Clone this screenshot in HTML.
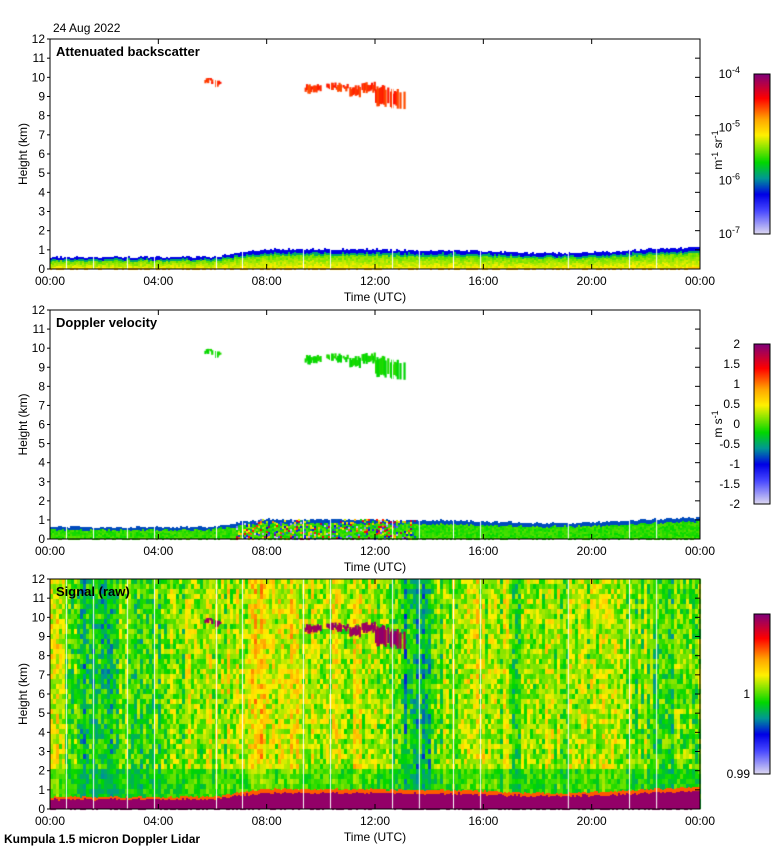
<!DOCTYPE html>
<html><head><meta charset="utf-8">
<style>
body{margin:0;background:#fff;width:780px;height:850px;overflow:hidden;font-family:"Liberation Sans",sans-serif;}
#wrap{position:relative;width:780px;height:850px;}
canvas,svg{position:absolute;left:0;top:0;}
</style></head>
<body>
<div id="wrap">
<canvas id="cv" width="780" height="850"></canvas>
<svg id="sv" width="780" height="850"></svg>
</div>
<script>
// ---- data ----
const timeTicks = ["00:00","04:00","08:00","12:00","16:00","20:00","00:00"];
const heightTicks = [0,1,2,3,4,5,6,7,8,9,10,11,12];
// boundary-layer top height (km), hourly 0..24
const blTop = [0.6,0.6,0.6,0.6,0.6,0.6,0.6,0.85,1.0,1.0,1.0,1.0,1.0,0.95,0.95,0.95,0.9,0.85,0.8,0.8,0.85,0.9,1.0,1.05,1.1];
// cloud segments: [startHour, endHour, bottomKm, topKm]
const cloudStart = [5.7,5.95,9.4,10.2,11.0,11.5,12.0,12.5];
const cloudEnd   = [5.95,6.25,10.0,11.0,11.5,12.0,12.5,13.1];
const cloudBot   = [9.6,9.4,9.1,9.2,8.9,9.1,8.4,8.3];
const cloudTop   = [10.1,9.9,9.7,9.75,9.6,9.8,9.6,9.4];
// raw signal column mean (0..1 colour scale), half-hourly 0..24
const sigMean = [0.62,0.5,0.42,0.42,0.45,0.5,0.45,0.48,0.52,0.52,0.55,0.55,0.55,0.58,0.6,0.62,0.6,0.6,0.58,0.58,0.56,0.58,0.58,0.58,0.55,0.48,0.42,0.42,0.5,0.55,0.58,0.58,0.56,0.55,0.5,0.55,0.55,0.55,0.55,0.55,0.55,0.58,0.55,0.52,0.5,0.5,0.5,0.48];
// data gaps (hours)
const gaps = [0.59,1.59,2.84,3.84,6.13,7.09,9.34,10.34,12.63,13.62,14.88,15.88,19.12,21.38,22.38];
const cb2Labels = ["2","1.5","1","0.5","0","-0.5","-1","-1.5","-2"];

// ---- geometry ----
const X0=50,X1=700;
const panels=[{top:39,bot:269,title:"Attenuated backscatter"},{top:310,bot:539,title:"Doppler velocity"},{top:579,bot:809,title:"Signal (raw)"}];
const xs=h=>X0+(X1-X0)*h/24;
const ys=(p,k)=>p.bot-(p.bot-p.top)*k/12;

const stops=[[0,[225,220,240]],[0.15,[70,70,255]],[0.25,[0,0,230]],[0.35,[0,150,150]],[0.45,[0,215,0]],[0.55,[150,230,0]],[0.62,[255,240,0]],[0.72,[255,165,0]],[0.85,[255,0,0]],[1,[130,0,120]]];
function cmap(v){v=Math.max(0,Math.min(1,v));for(let i=1;i<stops.length;i++){if(v<=stops[i][0]){const a=stops[i-1],b=stops[i];const t=(v-a[0])/(b[0]-a[0]);return `rgb(${a[1].map((c,j)=>Math.round(c+(b[1][j]-c)*t)).join(",")})`;}}return "rgb(130,0,120)";}
function hash(a,b){let h=(a*374761393+b*668265263)^0x5bf03635;h=Math.imul(h^(h>>>13),1274126177);h=h^(h>>>16);return ((h>>>0)%1000)/1000;}
function sigAt(h){const i=Math.min(sigMean.length-1,Math.floor(h/0.5));return sigMean[i];}
function bl(h){const i=Math.floor(h),f=h-i;const a=blTop[Math.min(i,24)],b=blTop[Math.min(i+1,24)];return a+(b-a)*f;}

const ctx=document.getElementById('cv').getContext('2d');
const W=X1-X0;
// panel 3 texture
{const p=panels[2];for(let x=0;x<W;x+=3){const h=x/W*24;const cm=sigAt(h);const cn=hash(x,7)*0.12-0.06;
 for(let y=p.top;y<p.bot;y+=5){const k=(p.bot-y)/(p.bot-p.top)*12;let v=cm+cn+hash(x,y)*0.2-0.1;if(k<2.2)v=v*0.6+0.45*0.4-0.03;
  ctx.fillStyle=cmap(v);ctx.fillRect(X0+x,y,3,5);}}}
// boundary layers
for(let pi=0;pi<3;pi++){const p=panels[pi];for(let x=0;x<W;x+=2){const h=x/W*24;const top=bl(h)+(hash(x,pi)*0.1-0.05);
 const yt=ys(p,top),yb=p.bot;
 for(let y=Math.floor(yt);y<yb;y+=2){const frac=(p.bot-y)/(p.bot-yt);let v;
  if(pi===0){v=frac>0.9?0.25:frac>0.78?0.38:0.45+(1-frac)*0.15+hash(x,y)*0.06; if(frac<0.1)v=0.68;}
  else if(pi===1){v=frac>0.88?0.3:0.45+hash(x,y)*0.06; if(h>6.8&&h<13.5&&hash(x+1,y)>0.6)v=hash(x,y+3);}
  else {v=frac>0.9?0.78:0.98;}
  ctx.fillStyle=cmap(v);ctx.fillRect(X0+x,y,2,2);}}}
// clouds
for(let pi=0;pi<3;pi++){const p=panels[pi];for(let i=0;i<cloudStart.length;i++){
 for(let h=cloudStart[i];h<cloudEnd[i];h+=0.05){const j=hash(Math.round(h*100),i);if(j<0.12)continue;const b=cloudBot[i]+j*0.3,t=cloudTop[i]-hash(i,Math.round(h*100))*0.25;
  ctx.fillStyle=pi===0?cmap(0.78+j*0.06):pi===1?cmap(0.44+j*0.04):cmap(0.94+j*0.06);
  ctx.fillRect(xs(h),ys(p,t),2.2,ys(p,b)-ys(p,t));}}}
// gaps
ctx.fillStyle="#fff";for(const g of gaps){for(const p of panels){ctx.fillRect(xs(g),p.top,1,p.bot-p.top);}}
// colorbars
const cbs=[{top:74,bot:234},{top:344,bot:504},{top:614,bot:774}];
for(const c of cbs){for(let y=c.top;y<c.bot;y++){ctx.fillStyle=cmap((c.bot-y)/(c.bot-c.top));ctx.fillRect(754,y,16,1);}}

// ---- SVG axes ----
const sv=document.getElementById('sv');const NS="http://www.w3.org/2000/svg";
function el(tag,attrs,txt){const e=document.createElementNS(NS,tag);for(const k in attrs)e.setAttribute(k,attrs[k]);if(txt!==undefined)e.textContent=txt;sv.appendChild(e);return e;}
panels.forEach((p,pi)=>{
 const r=el('rect',{x:X0,y:p.top,width:W,height:p.bot-p.top,fill:'none',stroke:'#000','stroke-width':1});
 
 const t=el('text',{x:56,y:p.top+17,'font-size':13,'font-weight':'bold'},p.title);
 
 heightTicks.forEach(k=>{const y=ys(p,k);el('line',{x1:X0-3,x2:X0,y1:y,y2:y,stroke:'#000'});el('line',{x1:X1-5,x2:X1,y1:y,y2:y,stroke:'#000'});
  const l=el('text',{x:X0-5,y:y+4,'font-size':12,'text-anchor':'end'},String(k));});
 timeTicks.forEach((s,i)=>{const x=xs(i*4);el('line',{x1:x,x2:x,y1:p.bot,y2:p.bot-5,stroke:'#000'});el('line',{x1:x,x2:x,y1:p.top,y2:p.top+5,stroke:'#000'});
  const l=el('text',{x:x,y:p.bot+16,'font-size':12,'text-anchor':'middle'},s);});
 const xt=el('text',{x:375,y:p.bot+32,'font-size':12,'text-anchor':'middle'},'Time (UTC)');
 const yt=el('text',{x:0,y:0,'font-size':12,'text-anchor':'middle',transform:`translate(27,${(p.top+p.bot)/2}) rotate(-90)`},'Height (km)');
 const c=cbs[pi];const cr=el('rect',{x:754,y:c.top,width:16,height:c.bot-c.top,fill:'none',stroke:'#000'});
});
// colorbar 1 labels
["-4","-5","-6","-7"].forEach((e,i)=>{const y=74+i*53.3+4;const t=el('text',{x:740,y:y,'font-size':12,'text-anchor':'end'});t.innerHTML=`10<tspan dy="-5" font-size="9">${e}</tspan>`;});
{const t=el('text',{x:0,y:0,'font-size':12,'text-anchor':'middle',transform:'translate(722,150) rotate(-90)'});t.innerHTML='m<tspan dy="-4" font-size="9">-1</tspan><tspan dy="4"> sr</tspan><tspan dy="-4" font-size="9">-1</tspan>';}
cb2Labels.forEach((s,i)=>{const t=el('text',{x:740,y:344+i*20+4,'font-size':12,'text-anchor':'end'},s);});
{const t=el('text',{x:0,y:0,'font-size':12,'text-anchor':'middle',transform:'translate(722,424) rotate(-90)'});t.innerHTML='m s<tspan dy="-4" font-size="9">-1</tspan>';}
[["1",698],["0.99",778]].forEach(a=>{const t=el('text',{x:750,y:a[1],'font-size':12,'text-anchor':'end'},a[0]);});
{const t=el('text',{x:53,y:32,'font-size':12},'24 Aug 2022');}
{const t=el('text',{x:4,y:843,'font-size':12,'font-weight':'bold'},'Kumpula 1.5 micron Doppler Lidar');}
</script>
</body></html>
